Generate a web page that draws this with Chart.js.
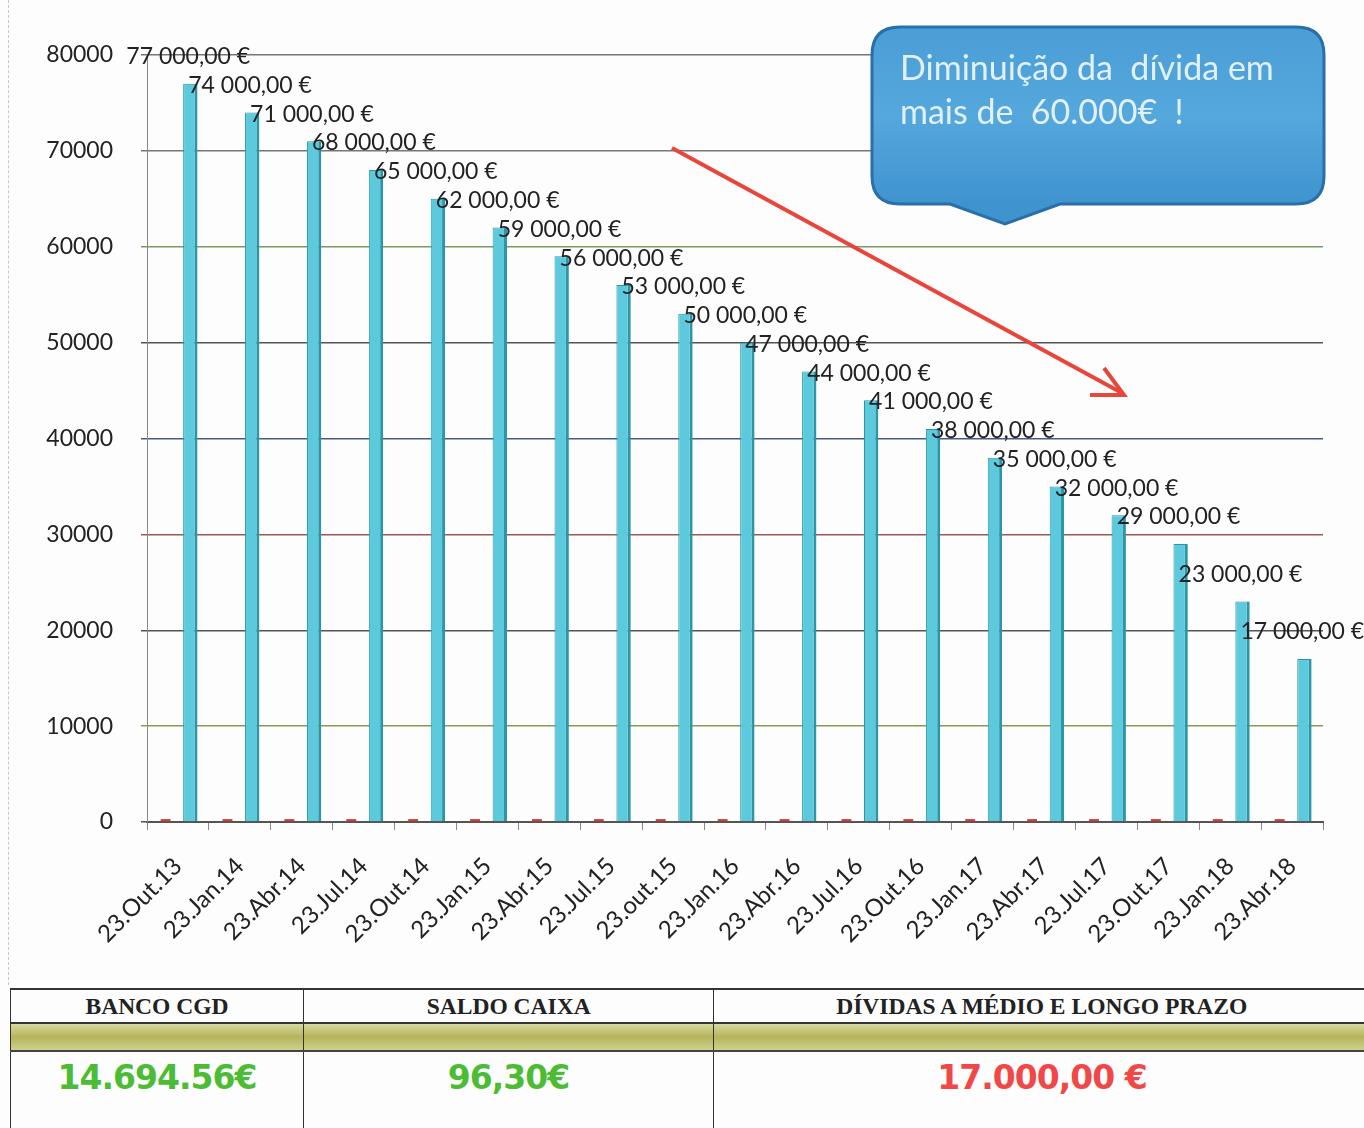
<!DOCTYPE html>
<html>
<head>
<meta charset="utf-8">
<script src="https://cdn.jsdelivr.net/npm/chart.js@4.4.1/dist/chart.umd.min.js"></script>
<style>
  body { margin: 0; background: #fdfdfd; width: 1364px; height: 1128px; overflow: hidden; position: relative; }
  #wrap { position: absolute; left: 0; top: 0; width: 1364px; height: 985px; }
  #scanEdge { position: absolute; left: 8px; top: 0; height: 985px; border-left: 1px dashed #c8c8c8; }
  table.summary { position: absolute; left: 10px; top: 988px; width: 1360px; border-collapse: collapse; }
  table.summary td { border-left: 1px solid #333; padding: 0; text-align: center; }
  table.summary tr.head td { height: 32px; border-top: 2px solid #333; border-bottom: 2px solid #333;
    font-family: "Liberation Serif", serif; font-weight: bold; font-size: 24px; color: #222; }
  table.summary tr.head td span { display: inline-block; transform: scaleX(0.98); }
  table.summary tr.band td { height: 26px; border-bottom: 2px solid #444;
    background: linear-gradient(#d8d8a0, #b4b45a 50%, #d0d090); }
  table.summary tr.vals td { height: 76px; vertical-align: top; padding-top: 6px;
    font-family: "DejaVu Sans", sans-serif; font-weight: bold; font-size: 33px; letter-spacing: -1px; }
  .green { color: #4cbc34; }
  .red { color: #f04848; }
</style>
</head>
<body>
<div id="wrap"><canvas id="dividaChart" width="1364" height="985"></canvas></div>
<div id="scanEdge"></div>
<table class="summary">
  <tr class="head">
    <td style="width:292px"><span>BANCO CGD</span></td>
    <td style="width:409px"><span>SALDO CAIXA</span></td>
    <td><span>DÍVIDAS A MÉDIO E LONGO PRAZO</span></td>
  </tr>
  <tr class="band"><td></td><td></td><td></td></tr>
  <tr class="vals">
    <td class="green">14.694.56€</td>
    <td class="green">96,30€</td>
    <td class="red">17.000,00 €</td>
  </tr>
</table>
<script>
// chart data
const datas = ['23.Out.13', '23.Jan.14', '23.Abr.14', '23.Jul.14', '23.Out.14', '23.Jan.15', '23.Abr.15',
    '23.Jul.15', '23.out.15', '23.Jan.16', '23.Abr.16', '23.Jul.16', '23.Out.16', '23.Jan.17',
    '23.Abr.17', '23.Jul.17', '23.Out.17', '23.Jan.18', '23.Abr.18'];
const divida = [77000, 74000, 71000, 68000, 65000, 62000, 59000, 56000, 53000, 50000, 47000, 44000,
    41000, 38000, 35000, 32000, 29000, 23000, 17000];
// the small red marks sitting on the floor of the chart
const outros = [300, 300, 300, 300, 300, 300, 300, 300, 300, 300, 300, 300, 300, 300, 300, 300, 300, 300, 300];
const yTicks = [0, 10000, 20000, 30000, 40000, 50000, 60000, 70000, 80000];

const gridColors = ['#555555', '#8a9a50', '#555555', '#9a5a50', '#4a5a80', '#555555', '#7a9a60', '#777777', '#777777'];

function euro(v) {
    const parts = v.toFixed(2).split('.');
    return parts[0].replace(/\B(?=(\d{3})+(?!\d))/g, ' ') + ',' + parts[1] + ' €';
}

// value labels, drawn up and to the left of each bar like the 3D excel chart
const valueLabels = {
    id: 'valueLabels',
    afterDatasetsDraw(chart) {
        const ctx = chart.ctx;
        const meta = chart.getDatasetMeta(1);
        ctx.save();
        ctx.font = '23px Lato';
        ctx.fillStyle = '#222';
        ctx.textBaseline = 'middle';
        ctx.textAlign = 'left';
        meta.data.forEach((bar, i) => {
            ctx.fillText(euro(divida[i]), bar.x - 64, bar.y - 27);
        });
        ctx.restore();
    }
};

// callout box and red arrow
const callout = {
    id: 'callout',
    afterDraw(chart) {
        const ctx = chart.ctx;
        ctx.save();
        // arrow
        ctx.strokeStyle = '#e8463a';
        ctx.lineWidth = 4;
        ctx.beginPath();
        ctx.moveTo(672, 148);
        ctx.lineTo(1122, 393);
        ctx.stroke();
        ctx.beginPath();
        ctx.moveTo(1090, 395);
        ctx.lineTo(1124, 395);
        ctx.lineTo(1104, 368);
        ctx.stroke();

        // box with pointer
        const x = 872, y = 27, w = 452, h = 177, r = 28;
        ctx.beginPath();
        ctx.moveTo(x + r, y);
        ctx.lineTo(x + w - r, y);
        ctx.quadraticCurveTo(x + w, y, x + w, y + r);
        ctx.lineTo(x + w, y + h - r);
        ctx.quadraticCurveTo(x + w, y + h, x + w - r, y + h);
        ctx.lineTo(1060, y + h);
        ctx.lineTo(1005, y + h + 20);
        ctx.lineTo(950, y + h);
        ctx.lineTo(x + r, y + h);
        ctx.quadraticCurveTo(x, y + h, x, y + h - r);
        ctx.lineTo(x, y + r);
        ctx.quadraticCurveTo(x, y, x + r, y);
        ctx.closePath();
        const g = ctx.createLinearGradient(0, y, 0, y + h);
        g.addColorStop(0, '#4a9ed6');
        g.addColorStop(0.5, '#55a8dc');
        g.addColorStop(1, '#3f93cf');
        ctx.fillStyle = g;
        ctx.fill();
        ctx.strokeStyle = '#2a6fa8';
        ctx.lineWidth = 3;
        ctx.stroke();

        ctx.fillStyle = '#e2f0fa';
        ctx.font = '34px Lato';
        ctx.textBaseline = 'middle';
        ctx.fillText('Diminuição da  dívida em', 900, 69);
        ctx.fillText('mais de  60.000€  !', 900, 113);
        ctx.restore();
    }
};

const ctx = document.getElementById('dividaChart').getContext('2d');
const dividaChart = new Chart(ctx, {
    type: 'bar',
    data: {
        labels: datas,
        datasets: [
            {
                label: 'outros',
                data: outros,
                backgroundColor: '#d03a30',
                borderWidth: 0,
                categoryPercentage: 0.8,
                barPercentage: 0.4
            },
            {
                label: 'divida',
                data: divida,
                backgroundColor: '#5ccadc',
                borderColor: '#2c95a8',
                borderWidth: { left: 1, right: 3, top: 1, bottom: 0 },
                borderSkipped: false,
                categoryPercentage: 0.8,
                barPercentage: 0.58
            }
        ]
    },
    options: {
        responsive: false,
        animation: false,
        layout: { padding: { top: 55, right: 41, left: 0, bottom: 0 } },
        plugins: {
            legend: { display: false },
            tooltip: { enabled: false }
        },
        scales: {
            x: {
                grid: { display: true, drawOnChartArea: false, color: '#888', tickLength: 8 },
                border: { color: '#555', width: 2 },
                ticks: {
                    color: '#222',
                    font: { family: 'Lato', size: 24 },
                    minRotation: 45,
                    maxRotation: 45,
                    autoSkip: false,
                    padding: 22
                },
                afterFit(scale) { scale.height = 163; }
            },
            y: {
                min: 0,
                max: 80000,
                afterBuildTicks(scale) { scale.ticks = yTicks.map(v => ({ value: v })); },
                grid: {
                    color: c => gridColors[c.index] || '#666',
                    lineWidth: 1.5,
                    tickLength: 6
                },
                border: { color: '#888', width: 1 },
                ticks: {
                    color: '#222',
                    font: { family: 'Lato', size: 23 },
                    padding: 28,
                    callback: v => String(v)
                },
                afterFit(scale) { scale.width = 147; }
            }
        }
    },
    plugins: [valueLabels, callout]
});
</script>
</body>
</html>
